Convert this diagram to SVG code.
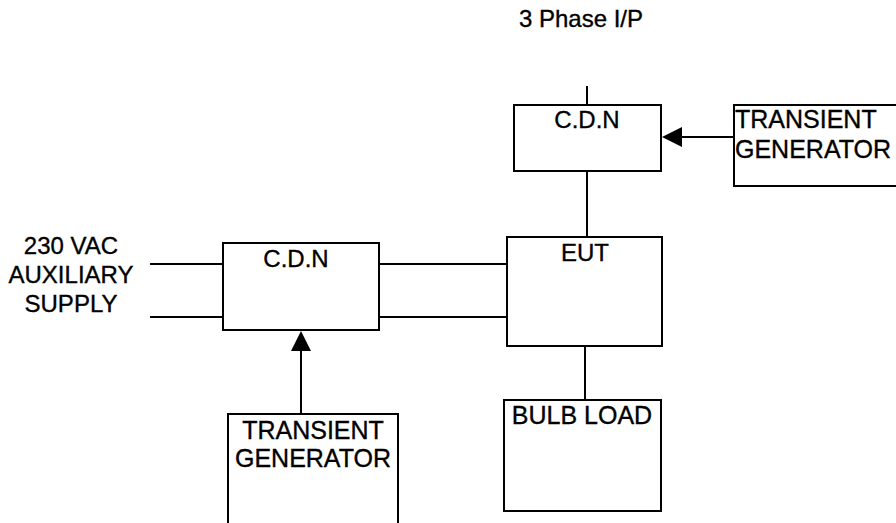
<svg xmlns="http://www.w3.org/2000/svg" width="896" height="523" viewBox="0 0 896 523">
<style>
.box{fill:#fff;stroke:#000;stroke-width:2}
.ln{fill:none;stroke:#000;stroke-width:2}
.t{font-family:"Liberation Sans",Arial,sans-serif;fill:#000;font-size:24px;stroke:#000;stroke-width:0.35}
.tg{font-size:25px}
.ah{fill:#000;stroke:none}
</style>
<defs>
<path id="arrowhead" class="ah" d="M0,0 L-20,-10 L-20,10 Z"/>
</defs>
<rect width="896" height="523" fill="#fff"/>
<g id="connectors">
<line class="ln" x1="587" y1="86" x2="587" y2="105"/>
<line class="ln" x1="587" y1="171" x2="587" y2="237"/>
<line class="ln" x1="734" y1="137" x2="680" y2="137"/>
<use href="#arrowhead" transform="translate(662,137) rotate(180)"/>
<line class="ln" x1="150" y1="264" x2="223" y2="264"/>
<line class="ln" x1="150" y1="317" x2="223" y2="317"/>
<line class="ln" x1="379" y1="264" x2="507" y2="264"/>
<line class="ln" x1="379" y1="317" x2="507" y2="317"/>
<line class="ln" x1="301" y1="414" x2="301" y2="349"/>
<use href="#arrowhead" transform="translate(301,331) rotate(-90)"/>
<line class="ln" x1="585" y1="346" x2="585" y2="400"/>
</g>
<g id="label-3phase">
<text class="t" x="581" y="27" text-anchor="middle" font-size="22">3 Phase I/P</text>
</g>
<g id="label-aux">
<text class="t" x="71" y="254" text-anchor="middle">230 VAC</text>
<text class="t" x="71" y="283" text-anchor="middle">AUXILIARY</text>
<text class="t" x="71" y="312" text-anchor="middle">SUPPLY</text>
</g>
<g id="cdn-top">
<rect class="box" x="514" y="105" width="147" height="66"/>
<text class="t" x="587" y="128" text-anchor="middle">C.D.N</text>
</g>
<g id="tg-right">
<rect class="box" x="734" y="105" width="170" height="81"/>
<text class="t tg" x="735" y="128">TRANSIENT</text>
<text class="t tg" x="735" y="158">GENERATOR</text>
</g>
<g id="cdn-left">
<rect class="box" x="223" y="243" width="156" height="87"/>
<text class="t" x="296" y="267" text-anchor="middle">C.D.N</text>
</g>
<g id="eut">
<rect class="box" x="507" y="237" width="155" height="109"/>
<text class="t" x="585" y="261" text-anchor="middle">EUT</text>
</g>
<g id="bulb-load">
<rect class="box" x="504" y="400" width="157" height="111"/>
<text class="t tg" x="582" y="424" text-anchor="middle">BULB LOAD</text>
</g>
<g id="tg-bottom">
<rect class="box" x="228" y="414" width="170" height="120"/>
<text class="t tg" x="313" y="439" text-anchor="middle">TRANSIENT</text>
<text class="t tg" x="313" y="467" text-anchor="middle">GENERATOR</text>
</g>
</svg>
